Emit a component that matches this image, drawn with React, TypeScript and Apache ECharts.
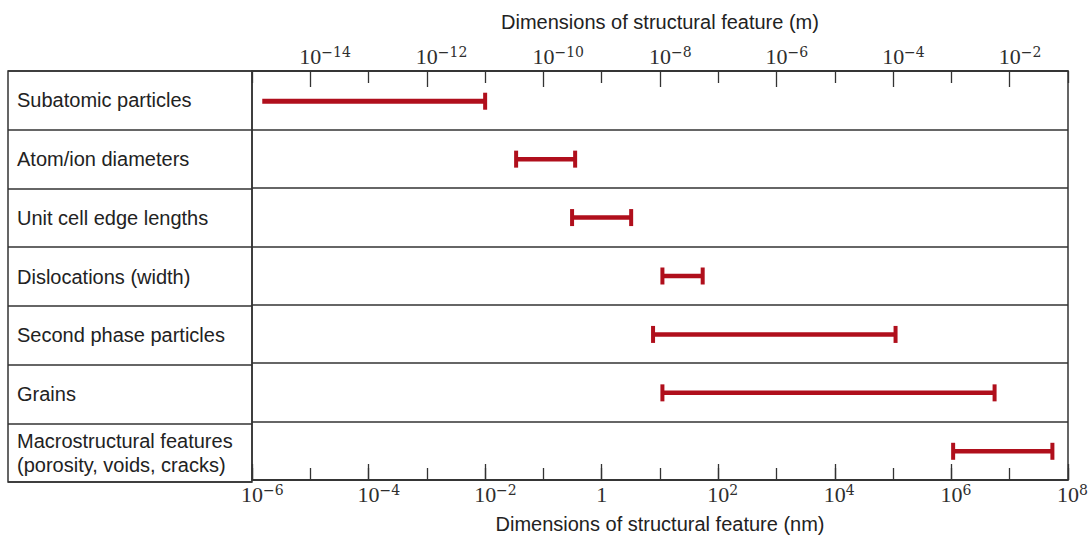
import React, { useEffect, useRef } from "react";
import * as echarts from "echarts";

// Row categories (top to bottom)
const categories = [
  "Subatomic particles",
  "Atom/ion diameters",
  "Unit cell edge lengths",
  "Dislocations (width)",
  "Second phase particles",
  "Grains",
  "Macrostructural features\n(porosity, voids, cracks)",
];
// Range of each feature, in nm
const lowNm = [1.5e-6, 0.034, 0.31, 11, 7.6, 11, 1.07e6];
const highNm = [1e-2, 0.35, 3.2, 54, 1.1e5, 5.5e6, 5.4e7];
const lowCap = [false, true, true, true, true, true, true];
const highCap = [true, true, true, true, true, true, true];

// Axis exponents
const nmMinExp = -6;
const nmMaxExp = 8;
const mMinExp = -15;
const mMaxExp = -1;
const topMajorExps = [-14, -12, -10, -8, -6, -4, -2];

const BAR = "#b00f1c";
const INK = "#222";
const LINE = "#333";
const SANS = "'Liberation Sans', Arial, sans-serif";
const SERIF = "'Liberation Serif', 'Times New Roman', serif";
const SUPF = "'DejaVu Serif', serif";

function powLabel(v: number): string {
  const e = Math.round(v);
  if (e === 0) return "{b|1}";
  const sup = e < 0 ? "\u2212" + Math.abs(e) : String(e);
  return `{p${sup.length}| }{b|10}{s|${sup}}`;
}

const richPow = {
  b: { fontFamily: SERIF, fontSize: 22, lineHeight: 22, color: "#2e2e2e", verticalAlign: "bottom" },
  s: { fontFamily: SUPF, fontSize: 14, lineHeight: 14, color: "#2e2e2e", verticalAlign: "top" },
  p1: { width: 8.9, fontSize: 14, lineHeight: 14 },
  p2: { width: 20.6, fontSize: 14, lineHeight: 14 },
  p3: { width: 29.5, fontSize: 14, lineHeight: 14 },
};

export default function App() {
  const ref = useRef<HTMLDivElement>(null);
  useEffect(() => {
    if (!ref.current) return;
    const chart = echarts.init(ref.current, null, { renderer: "svg" });
    const data = categories.map((_, i) => [
      i,
      Math.log10(lowNm[i]),
      Math.log10(highNm[i]),
      lowCap[i] ? 1 : 0,
      highCap[i] ? 1 : 0,
    ]);
    const gridTop = 71;
    const gridBottom = 57;
    chart.setOption({
      animation: false,
      backgroundColor: "#fff",
      grid: [
        { left: 8, width: 244, top: gridTop, bottom: gridBottom, show: true, borderColor: LINE, borderWidth: 1.5 },
        { left: 252, right: 24, top: gridTop, bottom: gridBottom, show: true, borderColor: LINE, borderWidth: 1.5 },
      ],
      xAxis: [
        { gridIndex: 0, type: "value", show: false, min: 0, max: 1 },
        {
          gridIndex: 1,
          type: "value",
          position: "bottom",
          min: nmMinExp,
          max: nmMaxExp,
          interval: 2,
          axisLine: { show: true, lineStyle: { color: LINE, width: 1.5 } },
          axisTick: { show: true, inside: true, length: 16, lineStyle: { color: LINE, width: 1.3 } },
          axisLabel: {
            show: true,
            margin: 3,
            showMinLabel: true,
            showMaxLabel: true,
            hideOverlap: false,
            formatter: powLabel,
            rich: richPow,
          },
          splitLine: { show: false },
          name: "Dimensions of structural feature (nm)",
          nameLocation: "middle",
          nameGap: 34,
          nameTextStyle: { fontFamily: SANS, fontSize: 20, color: INK },
        },
        {
          gridIndex: 1,
          type: "value",
          position: "bottom",
          min: nmMinExp,
          max: nmMaxExp,
          interval: 1,
          axisLine: { show: false },
          axisTick: { show: true, inside: true, length: 12, lineStyle: { color: LINE, width: 1.3 } },
          axisLabel: { show: false },
          splitLine: { show: false },
        },
        {
          gridIndex: 1,
          type: "value",
          position: "top",
          min: mMinExp,
          max: mMaxExp,
          axisLine: { show: true, lineStyle: { color: LINE, width: 1.5 } },
          axisTick: {
            show: true,
            inside: true,
            length: 16,
            customValues: topMajorExps,
            lineStyle: { color: LINE, width: 1.3 },
          },
          axisLabel: {
            show: true,
            margin: 4,
            customValues: topMajorExps,
            hideOverlap: false,
            formatter: powLabel,
            rich: richPow,
          },
          splitLine: { show: false },
          name: "Dimensions of structural feature (m)",
          nameLocation: "middle",
          nameGap: 39,
          nameTextStyle: { fontFamily: SANS, fontSize: 20, color: INK },
        },
        {
          gridIndex: 1,
          type: "value",
          position: "top",
          min: mMinExp,
          max: mMaxExp,
          interval: 2,
          axisLine: { show: false },
          axisTick: { show: true, inside: true, length: 12, lineStyle: { color: LINE, width: 1.3 } },
          axisLabel: { show: false },
          splitLine: { show: false },
        },
      ],
      yAxis: [
        {
          gridIndex: 0,
          type: "category",
          inverse: true,
          data: categories,
          axisLine: { show: false },
          axisTick: { show: false },
          axisLabel: {
            show: true,
            inside: true,
            align: "left",
            margin: 9,
            fontFamily: SANS,
            fontSize: 20,
            lineHeight: 24,
            color: INK,
          },
          splitLine: { show: true, lineStyle: { color: LINE, width: 1.5 } },
        },
        {
          gridIndex: 1,
          type: "category",
          inverse: true,
          data: categories,
          axisLine: { show: false },
          axisTick: { show: false },
          axisLabel: { show: false },
          splitLine: { show: true, lineStyle: { color: LINE, width: 1.5 } },
        },
      ],
      series: [
        {
          type: "custom",
          xAxisIndex: 1,
          yAxisIndex: 1,
          data,
          encode: { x: [1, 2], y: 0 },
          renderItem: (params: any, api: any) => {
            const yi = api.value(0);
            const p0 = api.coord([api.value(1), yi]);
            const p1 = api.coord([api.value(2), yi]);
            const thick = yi === 0 ? 5 : 4.5;
            const cy = p0[1] + (yi === 0 ? 1 : 0.5);
            const children: any[] = [
              {
                type: "rect",
                shape: { x: p0[0], y: cy - thick / 2, width: p1[0] - p0[0], height: thick },
                style: { fill: BAR },
              },
            ];
            if (api.value(3)) {
              children.push({
                type: "rect",
                shape: { x: p0[0] - 2, y: cy - 8.5, width: 4, height: 17 },
                style: { fill: BAR },
              });
            }
            if (api.value(4)) {
              children.push({
                type: "rect",
                shape: { x: p1[0] - 2, y: cy - 8.5, width: 4, height: 17 },
                style: { fill: BAR },
              });
            }
            return { type: "group", children };
          },
        },
      ],
    });
    return () => chart.dispose();
  }, []);
  return (
    <div
      ref={ref}
      style={{ position: "fixed", left: 0, top: 0, width: 1092, height: 539, background: "#fff" }}
    />
  );
}
